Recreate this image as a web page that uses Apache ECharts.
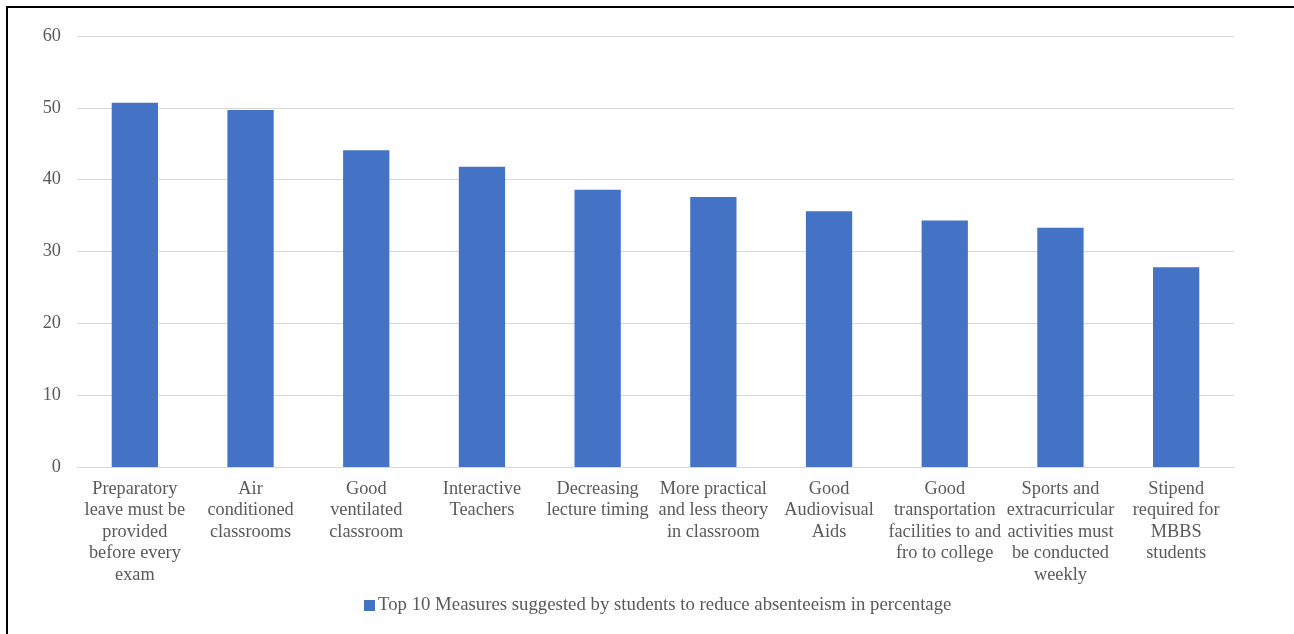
<!DOCTYPE html>
<html>
<head>
<meta charset="utf-8">
<script src="https://cdn.jsdelivr.net/npm/echarts@6/dist/echarts.min.js"></script>
<style>
html,body{margin:0;padding:0;background:#fff;overflow:hidden;}
#frame{position:absolute;left:6px;top:6px;width:1400px;height:700px;border:2px solid #000;box-sizing:border-box;}
#chart{position:absolute;left:0;top:0;width:1294px;height:634px;}
</style>
</head>
<body>
<div id="frame"></div>
<div id="chart"></div>
<script>
const categories = [
  "Preparatory\nleave must be\nprovided\nbefore every\nexam",
  "Air\nconditioned\nclassrooms",
  "Good\nventilated\nclassroom",
  "Interactive\nTeachers",
  "Decreasing\nlecture timing",
  "More practical\nand less theory\nin classroom",
  "Good\nAudiovisual\nAids",
  "Good\ntransportation\nfacilities to and\nfro to college",
  "Sports and\nextracurricular\nactivities must\nbe conducted\nweekly",
  "Stipend\nrequired for\nMBBS\nstudents"
];
const values = [50.7, 49.7, 44.1, 41.8, 38.6, 37.6, 35.6, 34.3, 33.3, 27.8];
const yTicks = [0, 10, 20, 30, 40, 50, 60];
const seriesName = "Top 10 Measures suggested by students to reduce absenteeism in percentage";

const chart = echarts.init(document.getElementById('chart'), null, {renderer: 'canvas'});
const font = "'Liberation Serif', 'Times New Roman', serif";
chart.setOption({
  animation: false,
  backgroundColor: 'transparent',
  grid: {left: 77, right: 60, top: 36, bottom: 167, containLabel: false},
  legend: {
    show: true,
    top: 591,
    left: 359,
    itemWidth: 11,
    itemHeight: 11,
    itemGap: 10,
    icon: 'rect',
    textStyle: {fontFamily: font, fontSize: 18.8, color: '#595959', padding: [0,0,0,-2]},
    data: [seriesName]
  },
  xAxis: {
    type: 'category',
    data: categories,
    axisLine: {show: true, lineStyle: {color: '#d9d9d9', width: 1}},
    axisTick: {show: false},
    axisLabel: {
      interval: 0,
      fontFamily: font,
      fontSize: 18.3,
      color: '#595959',
      lineHeight: 21.5,
      margin: 11
    }
  },
  yAxis: {
    type: 'value',
    min: yTicks[0],
    max: yTicks[yTicks.length - 1],
    interval: 10,
    axisLine: {show: false},
    axisTick: {show: false},
    splitLine: {lineStyle: {color: '#d9d9d9', width: 1}},
    axisLabel: {fontFamily: font, fontSize: 18.3, color: '#595959', margin: 16}
  },
  series: [{
    name: seriesName,
    type: 'bar',
    data: values,
    barCategoryGap: '60%',
    itemStyle: {color: '#4472c4'}
  }]
});
</script>
</body>
</html>
